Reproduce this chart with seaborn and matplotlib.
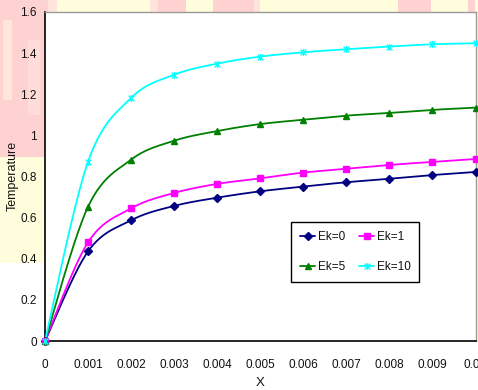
import numpy as np
import pandas as pd
import matplotlib
matplotlib.use("Agg")
import matplotlib.pyplot as plt
from matplotlib.patches import Rectangle
from matplotlib.path import Path
from matplotlib.lines import Line2D
import seaborn as sns

# ---- data -------------------------------------------------------------
x_vals = [0.0, 0.001, 0.002, 0.003, 0.004, 0.005, 0.006, 0.007, 0.008, 0.009, 0.01]
ek0 = [0.0, 0.436, 0.587, 0.657, 0.697, 0.728, 0.751, 0.772, 0.789, 0.807, 0.822]
ek1 = [0.0, 0.480, 0.645, 0.720, 0.764, 0.791, 0.819, 0.837, 0.856, 0.871, 0.885]
ek5 = [0.0, 0.653, 0.882, 0.974, 1.021, 1.055, 1.076, 1.096, 1.109, 1.124, 1.135]
ek10 = [0.0, 0.872, 1.182, 1.295, 1.349, 1.383, 1.404, 1.419, 1.432, 1.443, 1.448]
series_names = ["Ek=0", "Ek=1", "Ek=5", "Ek=10"]
x_ticks = [0, 0.001, 0.002, 0.003, 0.004, 0.005, 0.006, 0.007, 0.008, 0.009, 0.01]
x_tick_labels = ["0", "0.001", "0.002", "0.003", "0.004", "0.005", "0.006",
                 "0.007", "0.008", "0.009", "0.01"]
y_ticks = [0, 0.2, 0.4, 0.6, 0.8, 1.0, 1.2, 1.4, 1.6]
y_tick_labels = ["0", "0.2", "0.4", "0.6", "0.8", "1", "1.2", "1.4", "1.6"]

colors = {"Ek=0": "#000080", "Ek=1": "#FF00FF", "Ek=5": "#008000", "Ek=10": "#00FFFF"}

# Excel-style "star" marker: an x with a vertical bar
star = Path([(-1, -1), (1, 1), (-1, 1), (1, -1), (0, -1.2), (0, 1.2)],
            [Path.MOVETO, Path.LINETO, Path.MOVETO, Path.LINETO, Path.MOVETO, Path.LINETO])
markers = {"Ek=0": ("D", 3.6), "Ek=1": ("s", 4.2), "Ek=5": ("^", 4.6), "Ek=10": (star, 5.0)}


def smooth(xs, ys, n=40):
    """Catmull-Rom style Bezier smoothing through every data point."""
    p = np.column_stack([xs, ys]).astype(float)
    ext = np.vstack([p[0], p, p[-1]])
    out = []
    t = np.linspace(0, 1, n)[:, None]
    for i in range(len(p) - 1):
        p0, p1, p2, p3 = ext[i], ext[i + 1], ext[i + 2], ext[i + 3]
        b1 = p1 + (p2 - p0) / 6.0
        b2 = p2 - (p3 - p1) / 6.0
        seg = ((1 - t) ** 3) * p1 + 3 * ((1 - t) ** 2) * t * b1 + 3 * (1 - t) * t ** 2 * b2 + t ** 3 * p2
        out.append(seg if i == 0 else seg[1:])
    return np.vstack(out)


raw = pd.DataFrame({"X": x_vals, "Ek=0": ek0, "Ek=1": ek1, "Ek=5": ek5, "Ek=10": ek10})
curves = []
for name in series_names:
    c = smooth(raw["X"], raw[name])
    curves.append(pd.DataFrame({"X": c[:, 0], "T": c[:, 1], "series": name}))
curves = pd.concat(curves, ignore_index=True)

# ---- figure -----------------------------------------------------------
sns.set_style("white")
plt.rcParams["font.family"] = ["Liberation Sans", "DejaVu Sans"]

W, H = 478, 390
fig = plt.figure(figsize=(W / 100, H / 100), dpi=100, facecolor="white")


def px_rect(x0, y0, x1, y1, color):
    fig.add_artist(Rectangle((x0 / W, 1 - y1 / H), (x1 - x0) / W, (y1 - y0) / H,
                             transform=fig.transFigure, facecolor=color,
                             edgecolor="none", zorder=-10))


PINK, LPINK, YEL = "#FFD2D2", "#FFE4DC", "#FFFDDC"
# blotchy backdrop along the top and left margins
px_rect(0, 0, 478, 12, YEL)
for a, b, col in [(0, 48, PINK), (48, 57, LPINK), (150, 158, LPINK), (158, 186, PINK),
                  (213, 254, PINK), (254, 260, LPINK), (398, 431, PINK), (468, 478, PINK)]:
    px_rect(a, 0, b, 12, col)
px_rect(0, 0, 45, 157, PINK)
px_rect(3, 20, 12, 100, "#FFE6DA")
px_rect(28, 40, 40, 115, "#FFDCD8")
px_rect(0, 157, 45, 263, YEL)
px_rect(475, 0, 478, 341, YEL)

ax = fig.add_axes([45 / W, 1 - 341 / H, (475.5 - 45) / W, (341 - 12) / H])
ax.set_facecolor("white")

sns.lineplot(data=curves, x="X", y="T", hue="series", hue_order=series_names,
             palette=colors, units="series", estimator=None, sort=False,
             linewidth=1.3, legend=False, ax=ax, zorder=3)
for name in series_names:
    m, ms = markers[name]
    ax.plot(raw["X"], raw[name], linestyle="none", marker=m, markersize=ms,
            color=colors[name], markeredgecolor=colors[name], markerfacecolor=colors[name],
            markeredgewidth=1.0, zorder=4, clip_on=False)

ax.set_xlim(0, 0.01)
ax.set_ylim(0, 1.6)
ax.set_xticks(x_ticks)
ax.set_xticklabels(x_tick_labels)
ax.set_yticks(y_ticks)
ax.set_yticklabels(y_tick_labels)
ax.tick_params(axis="both", direction="out", length=4, width=1, color="black",
               labelsize=8.5, labelcolor="#111111")
ax.tick_params(axis="x", pad=9)
ax.tick_params(axis="y", pad=2)
ax.set_xlabel("")
ax.set_ylabel("")

for side in ["left", "bottom"]:
    ax.spines[side].set_color("black")
    ax.spines[side].set_linewidth(1.2)
for side in ["top", "right"]:
    ax.spines[side].set_color("#9a9a9a")
    ax.spines[side].set_linewidth(1.0)
    ax.spines[side].set_visible(True)

fig.text(260 / W, 1 - 383 / H, "X", ha="center", va="center", fontsize=9.5, color="#111111")
fig.text(13 / W, 1 - 176 / H, "Temperature", ha="center", va="center", rotation=90,
         fontsize=9, color="#111111")

handles = []
for name in series_names:
    m, ms = markers[name]
    handles.append(Line2D([], [], color=colors[name], linewidth=1.3, marker=m, markersize=ms,
                          markerfacecolor=colors[name], markeredgecolor=colors[name]))
order = [0, 2, 1, 3]
leg = fig.legend([handles[i] for i in order], [series_names[i] for i in order],
                 ncol=2, loc="upper left", bbox_to_anchor=(291 / W, 1 - 222 / H),
                 frameon=True, fancybox=False, framealpha=1, edgecolor="black",
                 fontsize=8.5, handlelength=1.3, handletextpad=0.2, columnspacing=1.2,
                 labelspacing=1.55, borderpad=0.75, borderaxespad=0)
leg.get_frame().set_linewidth(1.0)
for t in leg.get_texts():
    t.set_color("#111111")

fig.savefig("out.png", dpi=100, facecolor="white")
